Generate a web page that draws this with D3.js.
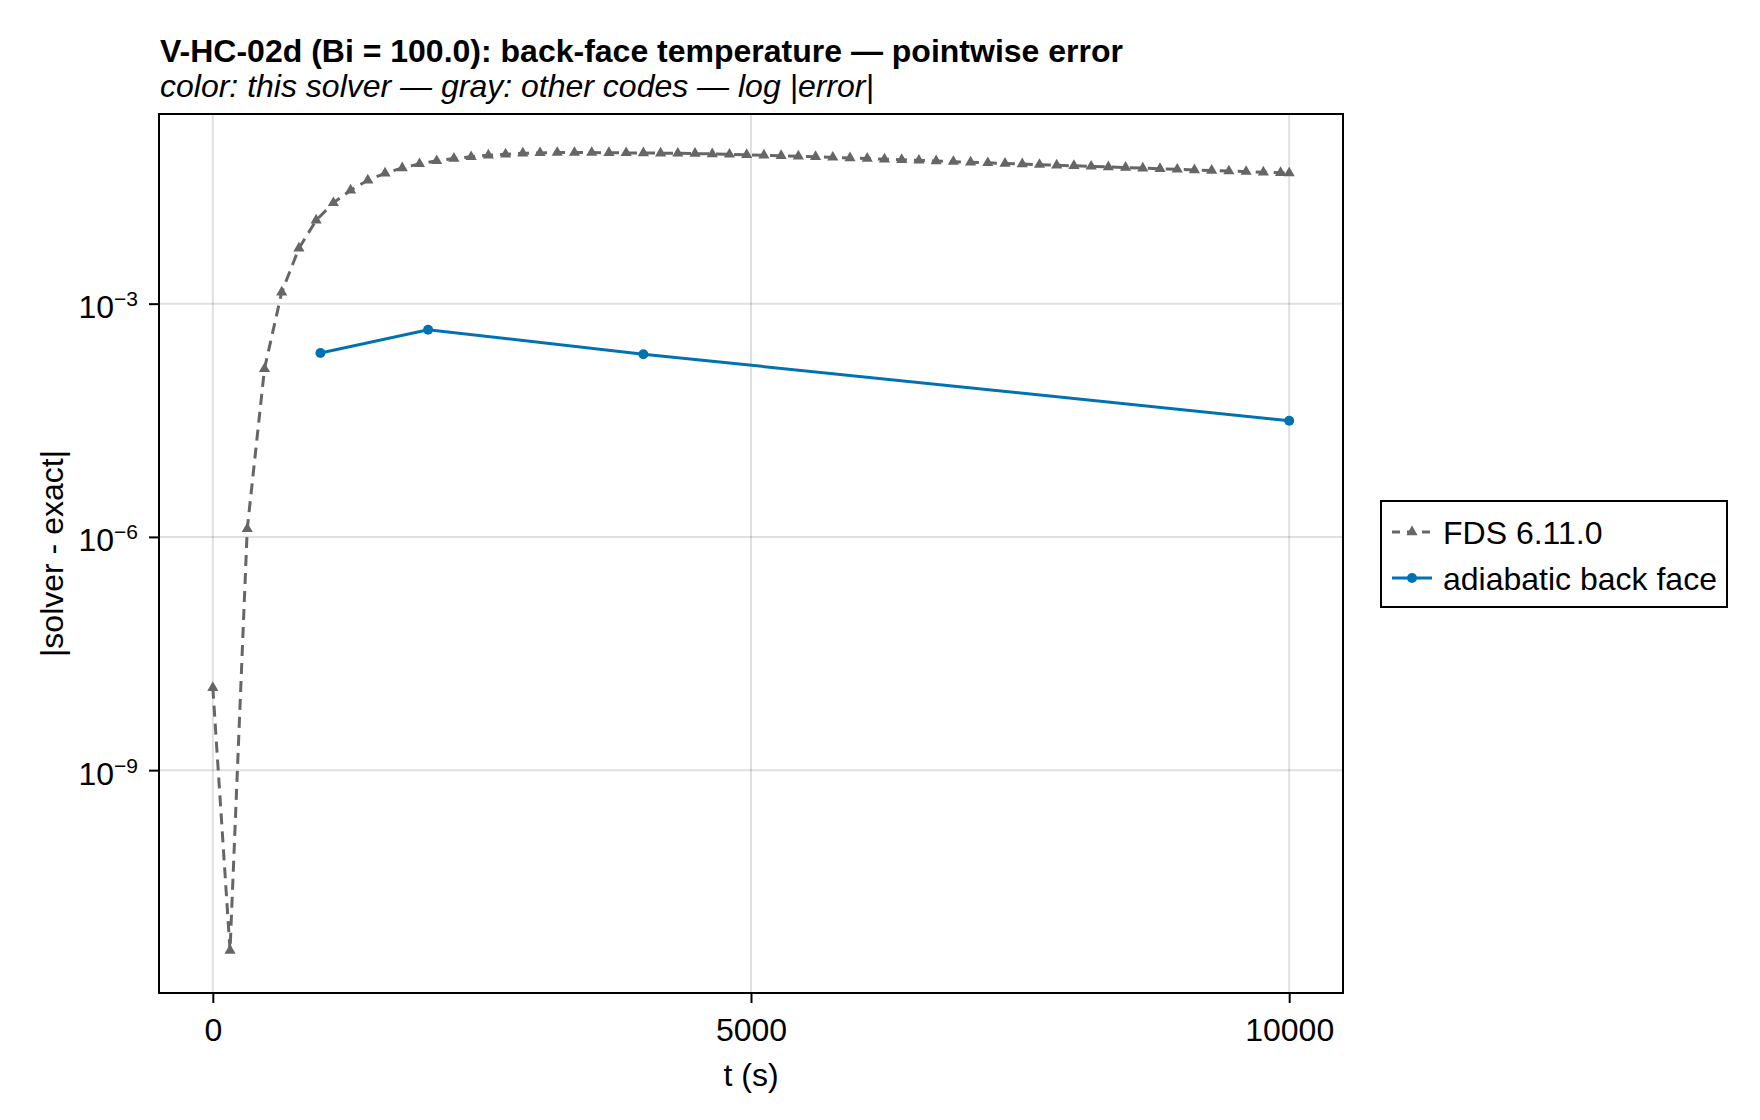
<!DOCTYPE html>
<html>

<head>
    <meta charset="utf-8">
    <title>V-HC-02d back-face pointwise error</title>
    <style>
        body {
            margin: 0;
            background: #fff;
        }

        svg {
            display: block;
            font-family: 'Liberation Sans', Arial, Helvetica, sans-serif;
        }

        .grid line {
            stroke: #000;
            stroke-opacity: .12;
            stroke-width: 2;
        }

        .axis .domain {
            display: none;
        }

        .axis .tick line {
            stroke: #000;
            stroke-width: 2;
        }

        .axis .tick text {
            font-size: 32px;
            fill: #000;
        }

        .frame {
            fill: none;
            stroke: #000;
            stroke-width: 2;
        }

        .title {
            font-size: 32px;
            font-weight: bold;
        }

        .subtitle {
            font-size: 32px;
            font-style: italic;
        }

        .axis-label {
            font-size: 32px;
        }

        .legend-label {
            font-size: 32px;
        }
    </style>
</head>

<body>
    <svg width="1760" height="1120"></svg>
</body>
<script src="https://d3js.org/d3.v7.min.js"></script>

<script>
    // FDS 6.11.0 comparison run, every 160 s plus the end point
    let fdsTime = [
        0, 160, 320, 480, 640, 800, 960, 1120, 1280, 1440,
        1600, 1760, 1920, 2080, 2240, 2400, 2560, 2720, 2880, 3040,
        3200, 3360, 3520, 3680, 3840, 4000, 4160, 4320, 4480, 4640,
        4800, 4960, 5120, 5280, 5440, 5600, 5760, 5920, 6080, 6240,
        6400, 6560, 6720, 6880, 7040, 7200, 7360, 7520, 7680, 7840,
        8000, 8160, 8320, 8480, 8640, 8800, 8960, 9120, 9280, 9440,
        9600, 9760, 9920, 10000];

    let fdsErr = [
        1.15e-8, 4.8e-12, 1.27e-6, 1.45e-4, 1.40e-3, 5.15e-3, 1.18e-2, 1.98e-2, 2.87e-2, 3.86e-2,
        4.75e-2, 5.57e-2, 6.28e-2, 6.87e-2, 7.35e-2, 7.73e-2, 8.11e-2, 8.34e-2, 8.59e-2, 8.69e-2,
        8.77e-2, 8.77e-2, 8.77e-2, 8.72e-2, 8.69e-2, 8.66e-2, 8.62e-2, 8.58e-2, 8.52e-2, 8.43e-2,
        8.33e-2, 8.22e-2, 8.11e-2, 7.99e-2, 7.87e-2, 7.74e-2, 7.61e-2, 7.48e-2, 7.35e-2, 7.22e-2,
        7.09e-2, 6.96e-2, 6.83e-2, 6.71e-2, 6.59e-2, 6.47e-2, 6.36e-2, 6.25e-2, 6.14e-2, 6.03e-2,
        5.93e-2, 5.83e-2, 5.73e-2, 5.63e-2, 5.53e-2, 5.44e-2, 5.34e-2, 5.25e-2, 5.16e-2, 5.07e-2,
        4.99e-2, 4.90e-2, 4.82e-2, 4.78e-2];

    // this solver
    let solverTime = [1000, 2000, 4000, 10000];
    let solverErr = [2.32e-4, 4.62e-4, 2.24e-4, 3.12e-5];

    let seriesNames = ['FDS 6.11.0', 'adiabatic back face'];

    let xTicks = [0, 5000, 10000];
    let xTickLabels = ['0', '5000', '10000'];
    let yTicks = [1e-9, 1e-6, 1e-3];
    let yTickExp = ['−9', '−6', '−3'];

    let gray = '#666666';
    let blue = '#0072b2';

    let svg = d3.select('svg');

    let box = { left: 159, right: 1343, top: 114, bottom: 993 };

    let x = d3.scaleLinear()
        .domain([-500, 10500])
        .range([box.left, box.right]);

    let y = d3.scaleLog()
        .domain([1.36e-12, 0.275])
        .range([box.bottom, box.top]);

    let fds = fdsTime.map((t, i) => ({ t: t, v: fdsErr[i] }));
    let solver = solverTime.map((t, i) => ({ t: t, v: solverErr[i] }));

    // grid
    let grid = svg.append('g').attr('class', 'grid');

    grid.selectAll('.gx')
        .data(xTicks)
        .join('line')
        .attr('class', 'gx')
        .attr('x1', d => x(d)).attr('x2', d => x(d))
        .attr('y1', box.top).attr('y2', box.bottom);

    grid.selectAll('.gy')
        .data(yTicks)
        .join('line')
        .attr('class', 'gy')
        .attr('x1', box.left).attr('x2', box.right)
        .attr('y1', d => y(d)).attr('y2', d => y(d));

    // axes
    let xAxis = svg.append('g')
        .attr('class', 'x axis')
        .attr('transform', `translate(0,${box.bottom})`)
        .call(d3.axisBottom(x)
            .tickValues(xTicks)
            .tickSize(10)
            .tickFormat((d, i) => xTickLabels[i]));

    xAxis.selectAll('.tick text')
        .attr('y', 48)
        .attr('dy', 0);

    let yAxis = svg.append('g')
        .attr('class', 'y axis')
        .attr('transform', `translate(${box.left},0)`)
        .call(d3.axisLeft(y)
            .tickValues(yTicks)
            .tickSize(10)
            .tickPadding(11)
            .tickFormat(''));

    // 10 with a superscript exponent
    yAxis.selectAll('.tick text')
        .attr('dy', 0)
        .attr('y', 14)
        .each(function (d, i) {
            let t = d3.select(this);
            t.text(null);
            t.append('tspan').text('10');
            t.append('tspan')
                .attr('font-size', 21)
                .attr('dy', -12)
                .text(yTickExp[i]);
        });

    // series
    let line = d3.line()
        .x(d => x(d.t))
        .y(d => y(d.v));

    svg.append('path')
        .datum(fds)
        .attr('fill', 'none')
        .attr('stroke', gray)
        .attr('stroke-width', 3)
        .attr('stroke-dasharray', '11,7')
        .attr('d', line);

    let tri = d3.symbol().type(d3.symbolTriangle).size(54);

    svg.append('g')
        .selectAll('path')
        .data(fds)
        .join('path')
        .attr('fill', gray)
        .attr('transform', d => `translate(${x(d.t)},${y(d.v)})`)
        .attr('d', tri);

    svg.append('path')
        .datum(solver)
        .attr('fill', 'none')
        .attr('stroke', blue)
        .attr('stroke-width', 3)
        .attr('d', line);

    svg.append('g')
        .selectAll('circle')
        .data(solver)
        .join('circle')
        .attr('fill', blue)
        .attr('cx', d => x(d.t))
        .attr('cy', d => y(d.v))
        .attr('r', 5);

    // frame on top
    svg.append('rect')
        .attr('class', 'frame')
        .attr('x', box.left)
        .attr('y', box.top)
        .attr('width', box.right - box.left)
        .attr('height', box.bottom - box.top);

    // titles and labels
    svg.append('text')
        .attr('class', 'title')
        .attr('x', 160)
        .attr('y', 62)
        .text('V-HC-02d (Bi = 100.0): back-face temperature — pointwise error');

    svg.append('text')
        .attr('class', 'subtitle')
        .attr('x', 160)
        .attr('y', 97)
        .text('color: this solver — gray: other codes — log |error|');

    svg.append('text')
        .attr('class', 'axis-label')
        .attr('text-anchor', 'middle')
        .attr('x', (box.left + box.right) / 2)
        .attr('y', 1086)
        .text('t (s)');

    svg.append('text')
        .attr('class', 'axis-label')
        .attr('text-anchor', 'middle')
        .attr('transform', `translate(63,${(box.top + box.bottom) / 2}) rotate(-90)`)
        .text('|solver - exact|');

    // legend
    let legend = svg.append('g').attr('class', 'legend');

    legend.append('rect')
        .attr('x', 1381)
        .attr('y', 501)
        .attr('width', 346)
        .attr('height', 106)
        .attr('fill', '#fff')
        .attr('stroke', '#000')
        .attr('stroke-width', 2);

    let rows = [532, 578];

    legend.append('line')
        .attr('x1', 1392).attr('x2', 1432)
        .attr('y1', rows[0]).attr('y2', rows[0])
        .attr('stroke', gray)
        .attr('stroke-width', 3)
        .attr('stroke-dasharray', '8,7');

    legend.append('path')
        .attr('fill', gray)
        .attr('transform', `translate(1412,${rows[0]})`)
        .attr('d', tri);

    legend.append('line')
        .attr('x1', 1392).attr('x2', 1432)
        .attr('y1', rows[1]).attr('y2', rows[1])
        .attr('stroke', blue)
        .attr('stroke-width', 3);

    legend.append('circle')
        .attr('cx', 1412)
        .attr('cy', rows[1])
        .attr('r', 5)
        .attr('fill', blue);

    legend.selectAll('.legend-label')
        .data(seriesNames)
        .join('text')
        .attr('class', 'legend-label')
        .attr('x', 1443)
        .attr('y', (d, i) => rows[i] + 12)
        .text(d => d);
</script>

</html>
